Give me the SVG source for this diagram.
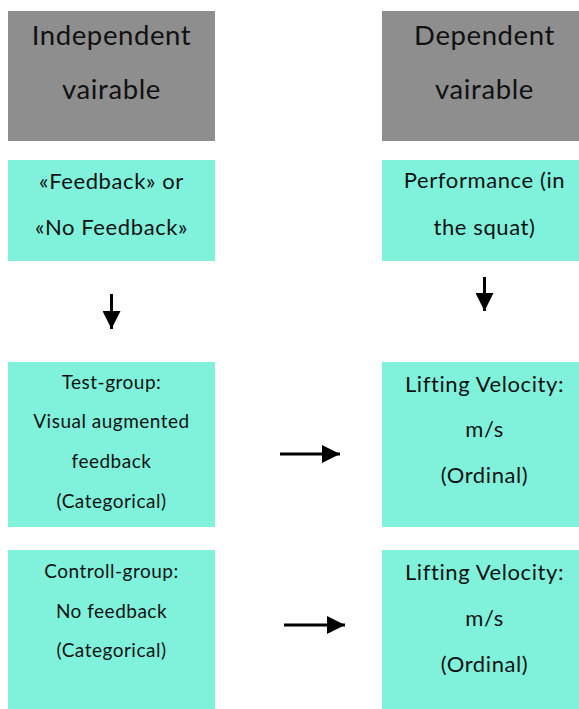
<svg xmlns="http://www.w3.org/2000/svg" width="579" height="709" viewBox="0 0 579 709">
  <style>
    .head { fill: #8e8e8e; }
    .box { fill: #80f2dc; }
    text { font-family: Lato, "Noto Sans", "DejaVu Sans", sans-serif; fill: #111; text-anchor: middle; }
    .t1 { font-size: 27.5px; letter-spacing: 0.6px; }
    .t2 { font-size: 22px; letter-spacing: 0.6px; }
    .t3 { font-size: 19px; letter-spacing: 0.5px; }
    .link { stroke: #000; stroke-width: 3; fill: none; marker-end: url(#tip); }
  </style>
  <defs>
    <marker id="tip" viewBox="0 0 18 18" refX="18" refY="9" markerWidth="18" markerHeight="18" markerUnits="userSpaceOnUse" orient="auto">
      <path d="M0,0 L18,9 L0,18 Z" fill="#000"/>
    </marker>
  </defs>

  <rect width="579" height="709" fill="#fff"/>

  <g id="independent-header">
    <rect class="head" x="8" y="11" width="207" height="130"/>
    <text class="t1" x="111.5" y="45">Independent</text>
    <text class="t1" x="111.5" y="99">vairable</text>
  </g>

  <g id="dependent-header">
    <rect class="head" x="382" y="11" width="205" height="130"/>
    <text class="t1" x="484.5" y="45">Dependent</text>
    <text class="t1" x="484.5" y="99">vairable</text>
  </g>

  <g id="feedback">
    <rect class="box" x="8" y="160" width="207" height="101"/>
    <text class="t2" x="111.5" y="189">«Feedback» or</text>
    <text class="t2" x="111.5" y="235">«No Feedback»</text>
  </g>

  <g id="performance">
    <rect class="box" x="382" y="160" width="205" height="101"/>
    <text class="t2" x="484.5" y="188">Performance (in</text>
    <text class="t2" x="484.5" y="235">the squat)</text>
  </g>

  <g id="test-group">
    <rect class="box" x="8" y="362" width="207" height="165"/>
    <text class="t3" x="111.5" y="389">Test-group:</text>
    <text class="t3" x="111.5" y="428">Visual augmented</text>
    <text class="t3" x="111.5" y="468">feedback</text>
    <text class="t3" x="111.5" y="508">(Categorical)</text>
  </g>

  <g id="velocity-test">
    <rect class="box" x="382" y="362" width="205" height="165"/>
    <text class="t2" x="484.5" y="392">Lifting Velocity:</text>
    <text class="t2" x="484.5" y="437">m/s</text>
    <text class="t2" x="484.5" y="483">(Ordinal)</text>
  </g>

  <g id="control-group">
    <rect class="box" x="8" y="550" width="207" height="165"/>
    <text class="t3" x="111.5" y="578">Controll-group:</text>
    <text class="t3" x="111.5" y="618">No feedback</text>
    <text class="t3" x="111.5" y="657">(Categorical)</text>
  </g>

  <g id="velocity-control">
    <rect class="box" x="382" y="550" width="205" height="165"/>
    <text class="t2" x="484.5" y="580">Lifting Velocity:</text>
    <text class="t2" x="484.5" y="626">m/s</text>
    <text class="t2" x="484.5" y="672">(Ordinal)</text>
  </g>

  <g id="connectors">
    <line class="link" x1="111.5" y1="294" x2="111.5" y2="329"/>
    <line class="link" x1="484.5" y1="277" x2="484.5" y2="311"/>
    <line class="link" x1="280" y1="454" x2="340" y2="454"/>
    <line class="link" x1="284" y1="625" x2="345" y2="625"/>
  </g>
</svg>
